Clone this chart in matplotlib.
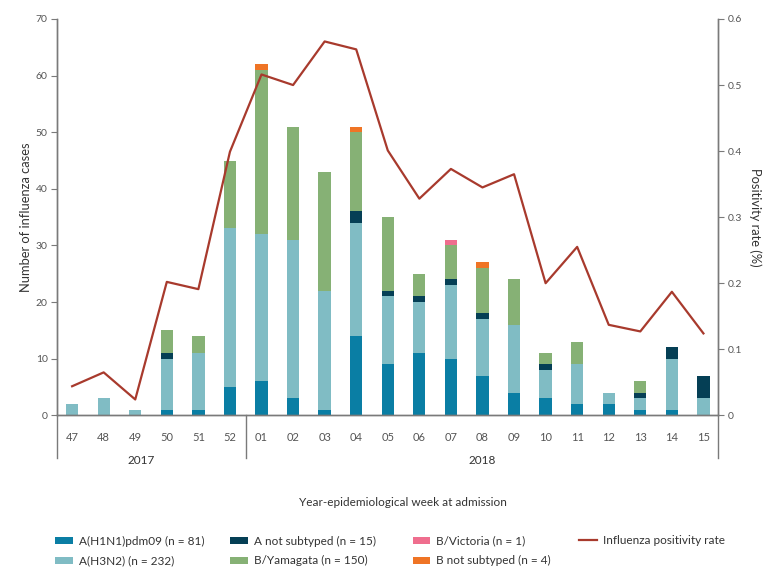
import matplotlib
matplotlib.use('Agg')
import matplotlib.pyplot as plt
import numpy as np
from matplotlib.patches import Patch
from matplotlib.lines import Line2D

plt.rcParams['font.family'] = ['Lato', 'DejaVu Sans']

weeks = ['47', '48', '49', '50', '51', '52', '01', '02', '03', '04', '05',
         '06', '07', '08', '09', '10', '11', '12', '13', '14', '15']
h1n1 = [0, 0, 0, 1, 1, 5, 6, 3, 1, 14, 9, 11, 10, 7, 4, 3, 2, 2, 1, 1, 0]
h3n2 = [2, 3, 1, 9, 10, 28, 26, 28, 21, 20, 12, 9, 13, 10, 12, 5, 7, 2, 2, 9, 3]
a_nst = [0, 0, 0, 1, 0, 0, 0, 0, 0, 2, 1, 1, 1, 1, 0, 1, 0, 0, 1, 2, 4]
yamagata = [0, 0, 0, 4, 3, 12, 29, 20, 21, 14, 13, 4, 6, 8, 8, 2, 4, 0, 2, 0, 0]
victoria = [0, 0, 0, 0, 0, 0, 0, 0, 0, 0, 0, 0, 1, 0, 0, 0, 0, 0, 0, 0, 0]
b_nst = [0, 0, 0, 0, 0, 0, 1, 0, 0, 1, 0, 0, 0, 1, 0, 0, 0, 0, 0, 0, 0]
positivity = [0.044, 0.065, 0.024, 0.202, 0.191, 0.399, 0.516, 0.500, 0.566,
              0.554, 0.401, 0.328, 0.373, 0.345, 0.365, 0.200, 0.255, 0.137,
              0.127, 0.187, 0.124]

series = [
    (h1n1, '#0a7ea4', 'A(H1N1)pdm09 (n = 81)'),
    (h3n2, '#80bcc4', 'A(H3N2) (n = 232)'),
    (a_nst, '#053f55', 'A not subtyped (n = 15)'),
    (yamagata, '#86b175', 'B/Yamagata (n = 150)'),
    (victoria, '#ef6e8e', 'B/Victoria (n = 1)'),
    (b_nst, '#ef7425', 'B not subtyped (n = 4)'),
]
line_color = '#a83a2d'
grey = '#7a7a7a'
text_c = '#333333'

W, H = 774, 579
fig = plt.figure(figsize=(7.74, 5.79), dpi=100)
ax = fig.add_axes([0.074, 0.2827, 0.854, 0.6845])
ax2 = ax.twinx()

x = np.arange(len(weeks))
bottom = np.zeros(len(weeks))
for vals, col, lab in series:
    ax.bar(x, vals, 0.39, bottom=bottom, color=col, zorder=2)
    bottom += np.array(vals)

ax2.plot(x, positivity, color=line_color, lw=1.6, zorder=3)

ax.set_xlim(-0.47, len(weeks) - 0.53)
ax.set_ylim(0, 70)
ax2.set_ylim(0, 0.6)
ax.set_yticks(range(0, 71, 10))
ax2.set_yticks([0, 0.1, 0.2, 0.3, 0.4, 0.5, 0.6])
ax2.set_yticklabels(['0', '0.1', '0.2', '0.3', '0.4', '0.5', '0.6'])
ax.set_xticks(x)
ax.set_xticklabels(weeks)

for a in (ax, ax2):
    a.spines['top'].set_visible(False)
    for s in a.spines.values():
        s.set_color(grey)
        s.set_linewidth(1.0)
    a.tick_params(axis='y', length=4, width=0.8, color=grey,
                  labelsize=7.5, labelcolor='#555555', pad=3)
ax.tick_params(axis='x', length=0, labelsize=8, labelcolor='#555555', pad=12)

ax.set_ylabel('Number of influenza cases', fontsize=9.3, color=text_c, labelpad=3)
ax2.set_ylabel('Positivity rate (%)', fontsize=9.3, color=text_c, rotation=270,
               labelpad=14)

# year brackets below the axis
trans = ax.get_xaxis_transform()
for xv in (-0.47, 5.5, len(weeks) - 0.53):
    ax.plot([xv, xv], [0, -0.108], transform=trans, color=grey, lw=1.0,
            clip_on=False)
ax.text(2.2, -0.115, '2017', transform=trans, ha='center', va='center',
        fontsize=8.5, color=text_c)
ax.text(13.0, -0.115, '2018', transform=trans, ha='center', va='center',
        fontsize=8.5, color=text_c)

fig.text(403 / W, 1 - 502 / H, 'Year-epidemiological week at admission',
         ha='center', va='center', fontsize=8.5, color=text_c)

# legend: four columns placed where the reference puts them
handles = [Patch(facecolor=c, edgecolor='none', label=l) for _, c, l in series]
handles.append(Line2D([], [], color=line_color, lw=1.6,
                      label='Influenza positivity rate'))
groups = [(handles[0:2], 55, 551), (handles[2:4], 230, 551),
          (handles[4:6], 412.7, 551), (handles[6:], 579, 540.7)]
for hs, px, py in groups:
    leg = fig.legend(handles=hs, loc='center left',
                     bbox_to_anchor=(px / W, 1 - py / H), frameon=False,
                     fontsize=8.5, handlelength=1.5, handleheight=0.55,
                     handletextpad=0.5, labelspacing=0.75, borderpad=0,
                     borderaxespad=0)
    for t in leg.get_texts():
        t.set_color(text_c)

fig.savefig('out.png', dpi=100)
